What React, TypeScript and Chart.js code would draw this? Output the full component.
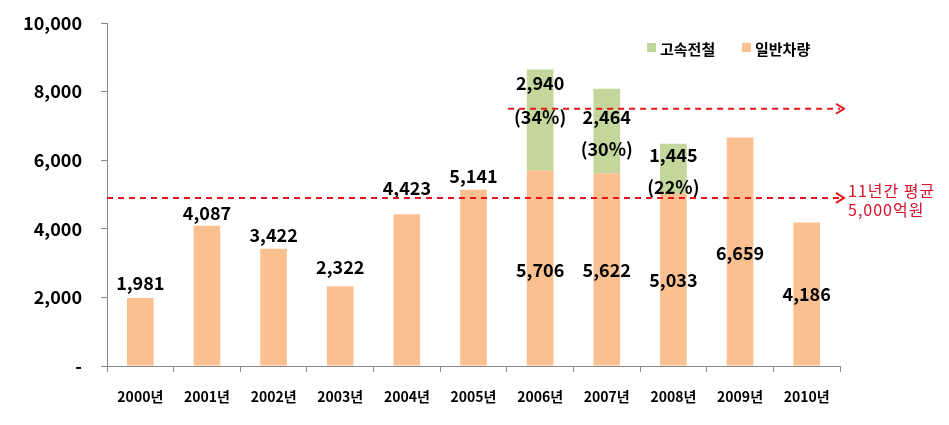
import React, { useEffect, useRef } from "react";
import { Chart, registerables } from "chart.js";

Chart.register(...registerables);

const years = ["2000년", "2001년", "2002년", "2003년", "2004년", "2005년", "2006년", "2007년", "2008년", "2009년", "2010년"];
const regular = [1981, 4087, 3422, 2322, 4423, 5141, 5706, 5622, 5033, 6659, 4186];
const highSpeed = [0, 0, 0, 0, 0, 0, 2940, 2464, 1445, 0, 0];
const highSpeedPct = ["", "", "", "", "", "", "(34%)", "(30%)", "(22%)", "", ""];
const averageLine = 4900;
const upperLine = 7500;
const avgText = ["11년간 평균", "5,000억원"];

const ORANGE = "#FAC090";
const GREEN = "#C3D69B";
const RED = "#E8141E";
const TEXT_RED = "#D8102C";
const FONT = "'Noto Sans CJK KR', 'Malgun Gothic', sans-serif";

// label placement for value labels of the orange bars
const insideLabelAt: (number | null)[] = [null, null, null, null, null, null, 2800, 2800, 2500, 3300, 2100];
const aboveLabelOffset = [15, 13, 13, 19, 26, 14, 0, 0, 0, 0, 0];

const fmt = (v: number) => v.toLocaleString("en-US");

const overlayPlugin = {
  id: "overlay",
  afterDatasetsDraw(chart: any) {
    const ctx = chart.ctx;
    const y = chart.scales.y;
    const area = chart.chartArea;
    const m0 = chart.getDatasetMeta(0);
    const m1 = chart.getDatasetMeta(1);
    ctx.save();
    ctx.fillStyle = "#000";
    ctx.textAlign = "center";
    ctx.textBaseline = "middle";
    ctx.font = `bold 18px ${FONT}`;
    regular.forEach((v, i) => {
      const bar = m0.data[i];
      const pos = insideLabelAt[i];
      const ly = pos != null ? y.getPixelForValue(pos) : bar.y - aboveLabelOffset[i];
      ctx.fillText(fmt(v), bar.x, ly);
    });
    highSpeed.forEach((v, i) => {
      if (!v) return;
      const bar = m1.data[i];
      const top = bar.y;
      const base = bar.base;
      let vy: number, py: number;
      if (i === 6) { vy = top + 14; py = top + 48; }
      else if (i === 7) { vy = top + 29; py = top + 61; }
      else { vy = top + 11; py = base - 6; }
      ctx.fillText(fmt(v), bar.x, vy);
      ctx.fillText(highSpeedPct[i], bar.x, py);
    });

    // dashed arrows
    const drawArrow = (x0: number, x1: number, yy: number) => {
      ctx.strokeStyle = RED;
      ctx.lineWidth = 2;
      ctx.setLineDash([6, 5]);
      ctx.beginPath();
      ctx.moveTo(x0, yy);
      ctx.lineTo(x1 - 4, yy);
      ctx.stroke();
      ctx.setLineDash([]);
      ctx.beginPath();
      ctx.moveTo(x1 - 8, yy - 5);
      ctx.lineTo(x1, yy);
      ctx.lineTo(x1 - 8, yy + 5);
      ctx.stroke();
    };
    const xs = chart.scales.x;
    drawArrow(xs.getPixelForValue(6) - 32, area.right + 4, y.getPixelForValue(upperLine));
    drawArrow(area.left, area.right + 4, y.getPixelForValue(averageLine));

    ctx.fillStyle = TEXT_RED;
    ctx.textAlign = "left";
    ctx.font = `16px ${FONT}`;
    (ctx as any).letterSpacing = "1px";
    const ay = y.getPixelForValue(averageLine);
    ctx.fillText(avgText[0], area.right + 8, ay - 7);
    ctx.fillText(avgText[1], area.right + 8, ay + 12);
    (ctx as any).letterSpacing = "0px";

    // legend
    const items = [
      { label: chart.data.datasets[1].label, color: GREEN },
      { label: chart.data.datasets[0].label, color: ORANGE },
    ];
    ctx.font = `bold 15px ${FONT}`;
    let lx = area.left + 540;
    const ly = 49;
    items.forEach((it) => {
      ctx.fillStyle = it.color;
      ctx.fillRect(lx, ly - 6, 9, 9);
      ctx.fillStyle = "#000";
      ctx.fillText(it.label, lx + 13, ly);
      lx += 95;
    });
    ctx.restore();
  },
};

export default function App() {
  const ref = useRef<HTMLCanvasElement>(null);
  useEffect(() => {
    document.body.style.margin = "0";
    const chart = new Chart(ref.current!, {
      type: "bar",
      data: {
        labels: years,
        datasets: [
          { label: "일반차량", data: regular, backgroundColor: ORANGE, barPercentage: 0.4, categoryPercentage: 1 },
          { label: "고속전철", data: highSpeed, backgroundColor: GREEN, barPercentage: 0.4, categoryPercentage: 1 },
        ],
      },
      options: {
        animation: false,
        responsive: false,
        layout: { padding: { left: 0, right: 109, top: 23, bottom: 0 } },
        plugins: { legend: { display: false }, tooltip: { enabled: false } },
        scales: {
          x: {
            stacked: true,
            grid: { display: true, drawOnChartArea: false, tickLength: 6, color: "#888" },
            border: { color: "#888" },
            ticks: { color: "#000", font: { family: FONT, size: 14, weight: "bold" }, padding: 16, maxRotation: 0 },
            afterFit: (s: any) => { s.height = 59; s.paddingTop = 0; s.paddingBottom = 0; },
          },
          y: {
            stacked: true,
            min: 0,
            max: 10000,
            grid: { display: true, drawOnChartArea: false, tickLength: 6, color: "#888" },
            border: { color: "#888" },
            ticks: {
              stepSize: 2000,
              color: "#000",
              font: { family: FONT, size: 18, weight: "bold" },
              padding: 19,
              callback: (v: any) => (v === 0 ? "-" : Number(v).toLocaleString("en-US")),
            },
            afterFit: (s: any) => { s.width = 107; s.paddingTop = 0; s.paddingBottom = 0; },
          },
        },
      },
      plugins: [overlayPlugin],
    } as any);
    return () => chart.destroy();
  }, []);
  return (
    <div style={{ position: "absolute", left: 0, top: 0, width: 949, height: 425 }}>
      <canvas ref={ref} width={949} height={425} />
    </div>
  );
}
